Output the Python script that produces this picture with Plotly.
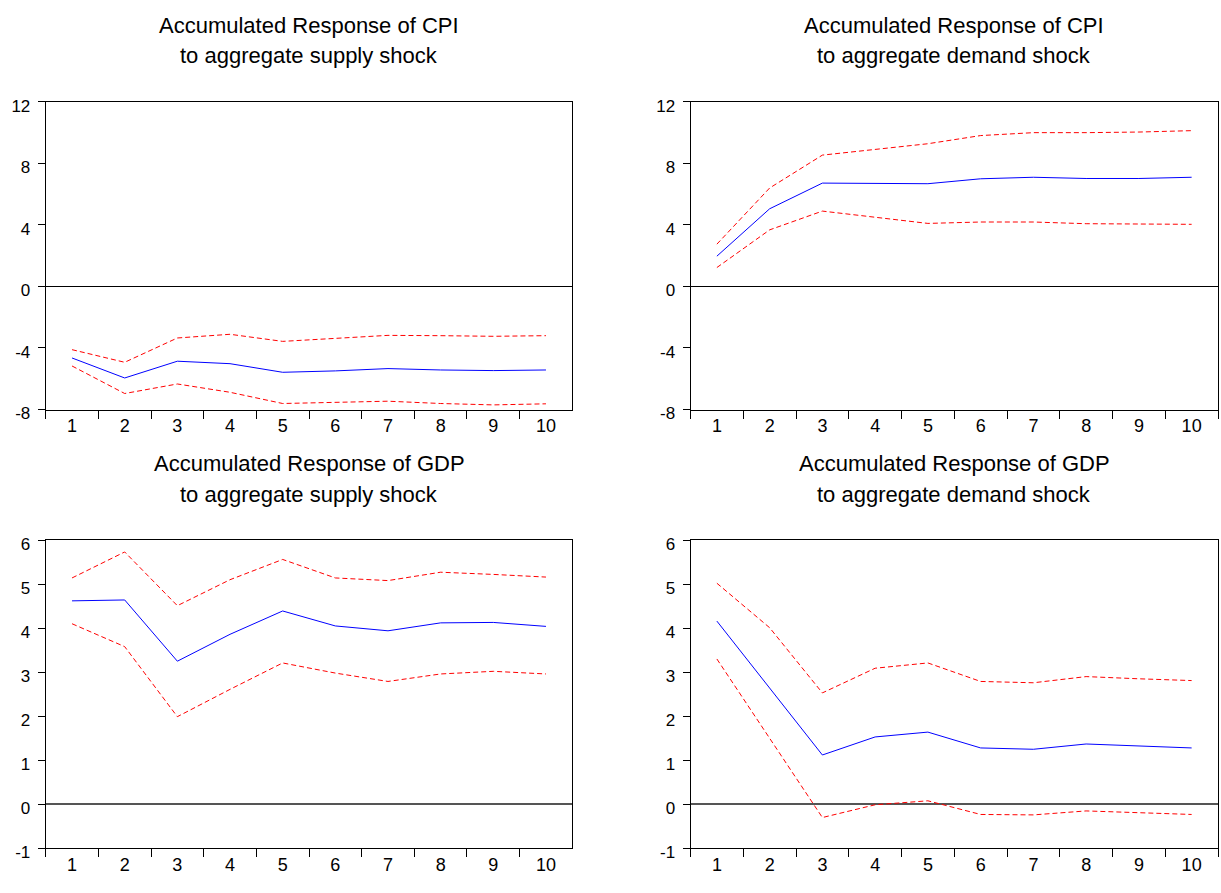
import plotly.graph_objects as go

periods = ["1", "2", "3", "4", "5", "6", "7", "8", "9", "10"]

cpi_supply = [-4.65, -5.95, -4.86, -5.02, -5.58, -5.49, -5.34, -5.43, -5.47, -5.43]
cpi_supply_hi = [-4.11, -4.93, -3.35, -3.11, -3.57, -3.39, -3.18, -3.20, -3.24, -3.20]
cpi_supply_lo = [-5.17, -6.96, -6.34, -6.88, -7.61, -7.55, -7.46, -7.61, -7.70, -7.63]

cpi_demand = [1.97, 5.05, 6.72, 6.72, 6.68, 7.00, 7.10, 7.02, 7.02, 7.10]
cpi_demand_hi = [2.75, 6.40, 8.54, 8.92, 9.28, 9.81, 10.00, 10.00, 10.04, 10.13]
cpi_demand_lo = [1.23, 3.68, 4.90, 4.52, 4.10, 4.19, 4.19, 4.08, 4.04, 4.04]

gdp_supply = [4.62, 4.64, 3.25, 3.86, 4.39, 4.05, 3.94, 4.12, 4.13, 4.04]
gdp_supply_hi = [5.14, 5.73, 4.51, 5.10, 5.56, 5.14, 5.08, 5.27, 5.22, 5.16]
gdp_supply_lo = [4.10, 3.58, 1.99, 2.61, 3.21, 2.98, 2.79, 2.96, 3.02, 2.96]

gdp_demand = [4.16, 2.65, 1.12, 1.53, 1.64, 1.28, 1.25, 1.37, 1.33, 1.28]
gdp_demand_hi = [5.02, 4.01, 2.53, 3.09, 3.21, 2.79, 2.76, 2.90, 2.85, 2.81]
gdp_demand_lo = [3.30, 1.50, -0.30, -0.01, 0.08, -0.23, -0.24, -0.15, -0.19, -0.23]

titles = [
    ("Accumulated Response of CPI", "to aggregate supply shock"),
    ("Accumulated Response of CPI", "to aggregate demand shock"),
    ("Accumulated Response of GDP", "to aggregate supply shock"),
    ("Accumulated Response of GDP", "to aggregate demand shock"),
]

cpi_ticks = [-8, -4, 0, 4, 8, 12]
gdp_ticks = [-1, 0, 1, 2, 3, 4, 5, 6]

W, H = 1221, 893
FONT = "Arial, Liberation Sans, sans-serif"

panels = [
    dict(series=(cpi_supply, cpi_supply_hi, cpi_supply_lo), ticks=cpi_ticks, rng=[-8, 12],
         px=(45.7, 572.3), py=(99, 413.3), zc="black", zw=1),
    dict(series=(cpi_demand, cpi_demand_hi, cpi_demand_lo), ticks=cpi_ticks, rng=[-8, 12],
         px=(690.5, 1218), py=(99, 413.3), zc="black", zw=1),
    dict(series=(gdp_supply, gdp_supply_hi, gdp_supply_lo), ticks=gdp_ticks, rng=[-1, 6],
         px=(45.7, 572.3), py=(546.7, 861.7), zc="#555555", zw=1.5),
    dict(series=(gdp_demand, gdp_demand_hi, gdp_demand_lo), ticks=gdp_ticks, rng=[-1, 6],
         px=(690.5, 1218), py=(546.7, 861.7), zc="#555555", zw=1.5),
]

fig = go.Figure()
layout = dict(
    width=W, height=H, margin=dict(l=0, r=0, t=0, b=0),
    paper_bgcolor="white", plot_bgcolor="white", showlegend=False,
    font=dict(family=FONT, color="black"),
)
annotations = []

for i, p in enumerate(panels):
    k = "" if i == 0 else str(i + 1)
    xa, ya = "x" + k, "y" + k
    mid, hi, lo = p["series"]
    for vals, color, dash in ((hi, "#FF0000", "5px,3px"), (lo, "#FF0000", "5px,3px"), (mid, "#0000FF", "solid")):
        fig.add_trace(go.Scatter(x=periods, y=vals, mode="lines", xaxis=xa, yaxis=ya,
                                 line=dict(color=color, width=1, dash=dash), hoverinfo="skip"))
    x0, x1 = p["px"]
    y0, y1 = p["py"]
    layout["xaxis" + k] = dict(
        domain=[x0 / W, x1 / W], anchor=ya, type="category", range=[-0.5, 9.5],
        showline=True, linecolor="black", linewidth=1, mirror=True,
        ticks="outside", tickson="boundaries", ticklen=8, tickcolor="black", tickwidth=1,
        showgrid=False, zeroline=False, tickfont=dict(size=18, family=FONT, color="black"),
        fixedrange=True,
    )
    layout["yaxis" + k] = dict(
        domain=[1 - y1 / H, 1 - y0 / H], anchor=xa, range=p["rng"],
        tickvals=p["ticks"], ticktext=[str(t) for t in p["ticks"]],
        showline=True, linecolor="black", linewidth=1, mirror=True,
        ticks="outside", ticklen=7, tickcolor="black", tickwidth=1,
        showgrid=False, zeroline=True, zerolinecolor=p["zc"], zerolinewidth=p["zw"],
        tickfont=dict(size=17, family=FONT, color="black"), ticklabelstandoff=4,
        ticklabelshift=4, fixedrange=True,
    )
    cx = (x0 + x1) / 2 / W
    t1, t2 = titles[i]
    for txt, yy in ((t1, y0 - 78), (t2, y0 - 47)):
        annotations.append(dict(text=txt, x=cx, y=1 - yy / H, xref="paper", yref="paper",
                                xanchor="center", yanchor="middle", showarrow=False,
                                font=dict(size=22, family=FONT, color="black")))

layout["annotations"] = annotations
fig.update_layout(**layout)
fig.write_html("out.html", config={"displayModeBar": False},
               post_script="document.body.style.margin='0';document.body.style.overflow='hidden';")
